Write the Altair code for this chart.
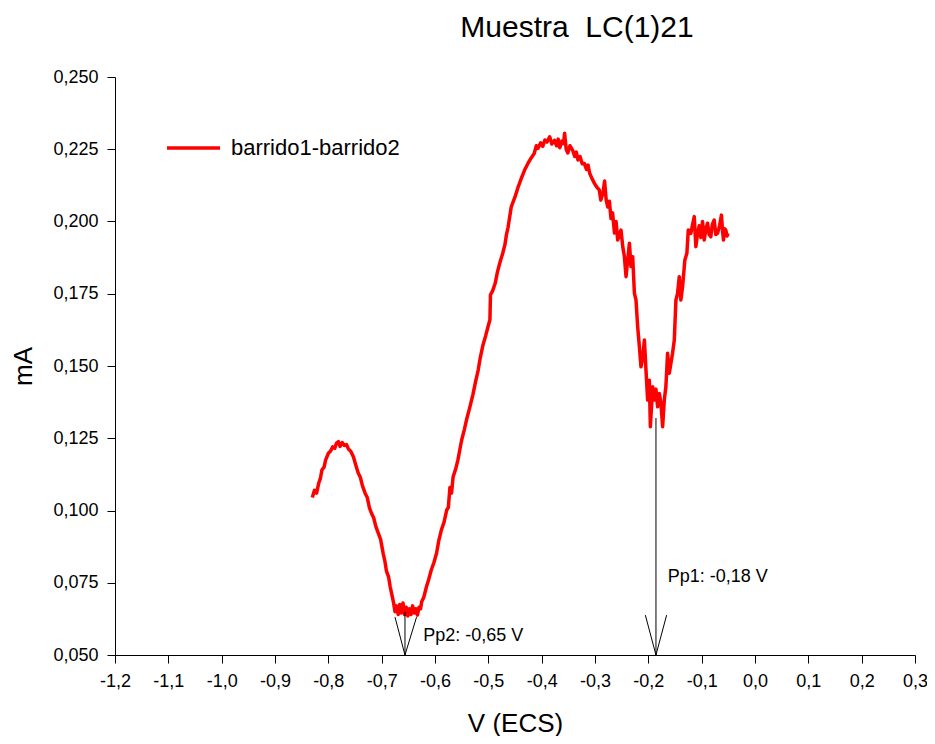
import altair as alt
import pandas as pd

# ---- data (V vs ECS, current in mA) ----
V = [
    -0.830, -0.826, -0.822, -0.818, -0.815, -0.812, -0.808, -0.805, -0.800, -0.796,
    -0.792, -0.788, -0.785, -0.781, -0.778, -0.774, -0.770, -0.766, -0.762, -0.758,
    -0.753, -0.749, -0.744, -0.740, -0.736, -0.731, -0.727, -0.723, -0.719, -0.715,
    -0.711, -0.706, -0.702, -0.697, -0.694, -0.691, -0.687, -0.684, -0.681, -0.678,
    -0.675, -0.672, -0.669, -0.666, -0.663, -0.660, -0.657, -0.654, -0.651, -0.648,
    -0.645, -0.642, -0.639, -0.636, -0.633, -0.630, -0.627, -0.625, -0.621, -0.616,
    -0.612, -0.607, -0.602, -0.597, -0.593, -0.588, -0.583, -0.578, -0.575, -0.572,
    -0.569, -0.566, -0.561, -0.557, -0.554, -0.550, -0.545, -0.541, -0.535, -0.529,
    -0.524, -0.519, -0.515, -0.510, -0.505, -0.500, -0.497, -0.496, -0.492, -0.487,
    -0.483, -0.478, -0.473, -0.469, -0.466, -0.463, -0.457, -0.450, -0.444, -0.438,
    -0.432, -0.426, -0.420, -0.414, -0.410, -0.407, -0.402, -0.398, -0.394, -0.390,
    -0.385, -0.381, -0.376, -0.372, -0.369, -0.366, -0.362, -0.359, -0.357, -0.354,
    -0.351, -0.347, -0.342, -0.338, -0.335, -0.332, -0.328, -0.324, -0.320, -0.316,
    -0.313, -0.310, -0.306, -0.301, -0.297, -0.292, -0.289, -0.285, -0.282, -0.279,
    -0.276, -0.273, -0.270, -0.267, -0.2635, -0.2605, -0.2574, -0.2512, -0.248, -0.245,
    -0.2418, -0.2355, -0.2325, -0.2293, -0.2261, -0.2231, -0.2200, -0.2168, -0.2138, -0.2105,
    -0.2074, -0.2044, -0.2013, -0.1981, -0.1962, -0.1919, -0.1887, -0.1857, -0.1826, -0.1794,
    -0.1764, -0.1732, -0.1701, -0.1671, -0.1639, -0.1607, -0.1546, -0.1513, -0.1483, -0.1452,
    -0.1420, -0.1390, -0.1358, -0.1315, -0.1277, -0.1251, -0.1203, -0.1170, -0.1139, -0.1109,
    -0.1075, -0.1046, -0.1015, -0.0984, -0.0952, -0.0920, -0.0890, -0.0860, -0.0829, -0.0800,
    -0.0765, -0.0735, -0.0703, -0.0665, -0.0629, -0.0610, -0.0591, -0.0570, -0.0548, -0.0525,
    -0.0503,
]
I = [
    0.1045, 0.1070, 0.1060, 0.1095, 0.1110, 0.1140, 0.1150, 0.1175, 0.1198, 0.1205,
    0.1220, 0.1215, 0.1232, 0.1238, 0.1222, 0.1235, 0.1225, 0.1228, 0.1212, 0.1205,
    0.1186, 0.1160, 0.1130, 0.1115, 0.1085, 0.1060, 0.1045, 0.1010, 0.0990, 0.0975,
    0.0945, 0.0920, 0.0900, 0.0850, 0.0825, 0.0790, 0.0770, 0.0736, 0.0710, 0.0684,
    0.0650, 0.0670, 0.0640, 0.0675, 0.0645, 0.0680, 0.0640, 0.0665, 0.0635, 0.0660,
    0.0640, 0.0670, 0.0645, 0.0660, 0.0638, 0.0665, 0.0660, 0.0684, 0.0700, 0.0736,
    0.0760, 0.0794, 0.0820, 0.0853, 0.0895, 0.0933, 0.0960, 0.1002, 0.1010, 0.1080,
    0.1060, 0.1117, 0.1145, 0.1175, 0.1205, 0.1244, 0.1280, 0.1313, 0.1355, 0.1400,
    0.1445, 0.1486, 0.1530, 0.1573, 0.1605, 0.1640, 0.1660, 0.1746, 0.1760, 0.1787,
    0.1825, 0.1860, 0.1890, 0.1919, 0.1955, 0.1980, 0.2051, 0.2085, 0.2120, 0.2150,
    0.2178, 0.2200, 0.2219, 0.2235, 0.2262, 0.2253, 0.2272, 0.2260, 0.2282, 0.2275,
    0.2293, 0.2268, 0.2281, 0.2262, 0.2285, 0.2255, 0.2278, 0.2270, 0.2305, 0.2250,
    0.2237, 0.2262, 0.2247, 0.2225, 0.2240, 0.2213, 0.2225, 0.2200, 0.2201, 0.2180,
    0.2195, 0.2167, 0.2150, 0.2132, 0.2120, 0.2109, 0.2074, 0.2100, 0.2140, 0.2074,
    0.2050, 0.2070, 0.2010, 0.2030, 0.1960, 0.2000, 0.1936, 0.1970, 0.1913, 0.1880,
    0.1809, 0.1925, 0.1844, 0.1878, 0.1751, 0.1728, 0.1636, 0.1567, 0.1497, 0.1530,
    0.1590, 0.1486, 0.1382, 0.1451, 0.1290, 0.1428, 0.1382, 0.1420, 0.1359, 0.1405,
    0.1371, 0.1290, 0.1382, 0.1428, 0.1544, 0.1475, 0.1544, 0.1590, 0.1728, 0.1751,
    0.1809, 0.1728, 0.1774, 0.1867, 0.1890, 0.1971, 0.1959, 0.1990, 0.2017, 0.1913,
    0.1960, 0.1985, 0.1945, 0.2000, 0.1936, 0.1975, 0.1994, 0.1955, 0.1947, 0.1990,
    0.2005, 0.1955, 0.1959, 0.1985, 0.2022, 0.1970, 0.1936, 0.1975, 0.1971, 0.1950,
    0.1959,
]
SERIE = "barrido1-barrido2"

X_TICKS = [-1.2, -1.1, -1.0, -0.9, -0.8, -0.7, -0.6, -0.5, -0.4, -0.3, -0.2, -0.1, 0.0, 0.1, 0.2, 0.3]
Y_TICKS = [0.050, 0.075, 0.100, 0.125, 0.150, 0.175, 0.200, 0.225, 0.250]

# peak-marker arrows (segments in data units) and their labels
SEG_X1 = [-0.1857, -0.2056, -0.1657, -0.6563, -0.6750, -0.6346]
SEG_Y1 = [0.1320, 0.0638, 0.0638, 0.0649, 0.0631, 0.0631]
SEG_X2 = [-0.1857, -0.1857, -0.1857, -0.6563, -0.6563, -0.6563]
SEG_Y2 = [0.0500, 0.0500, 0.0500, 0.0500, 0.0500, 0.0500]

LBL_TEXT = ["Pp1: -0,18 V", "Pp2: -0,65 V"]
LBL_X = [-0.1638, -0.6220]
LBL_Y = [0.0770, 0.0566]

TITLE = "Muestra\u00a0 LC(1)21"
FONT = "Liberation Sans"

curve = pd.DataFrame({"V": V, "I": I, "serie": [SERIE] * len(V)})
segs = pd.DataFrame({"x1": SEG_X1, "y1": SEG_Y1, "x2": SEG_X2, "y2": SEG_Y2})
lbls = pd.DataFrame({"t": LBL_TEXT, "x": LBL_X, "y": LBL_Y})

x_scale = alt.Scale(domain=[-1.2, 0.3], nice=False, zero=False)
y_scale = alt.Scale(domain=[0.05, 0.25], nice=False, zero=False)

x_axis = alt.Axis(
    title="V (ECS)", values=X_TICKS,
    labelExpr="replace(replace(format(datum.value, '.1f'), '.', ','), '\u2212', '-')",
    tickSize=8, labelPadding=9, titlePadding=20,
    labelFontSize=18, titleFontSize=26,
    labelFlush=False, labelOverlap=False,
)
y_axis = alt.Axis(
    title="mA", values=Y_TICKS,
    labelExpr="replace(format(datum.value, '.3f'), '.', ',')",
    tickSize=8, labelPadding=9, titlePadding=16,
    labelFontSize=18, titleFontSize=26,
    labelFlush=False, labelOverlap=False,
)

line = alt.Chart(curve).mark_line(strokeWidth=3.5, strokeJoin="round").encode(
    x=alt.X("V:Q", scale=x_scale, axis=x_axis),
    y=alt.Y("I:Q", scale=y_scale, axis=y_axis),
    color=alt.Color(
        "serie:N",
        scale=alt.Scale(domain=[SERIE], range=["#ff0000"]),
        legend=alt.Legend(
            title=None, orient="none", legendX=50, legendY=42.5,
            symbolType="stroke", symbolSize=2809, symbolStrokeWidth=3.5,
            labelFontSize=22, labelFont=FONT, labelColor="black",
            labelOffset=9, labelLimit=400, padding=0,
        ),
    ),
)

arrows = alt.Chart(segs).mark_rule(color="black", strokeWidth=1).encode(
    x="x1:Q", y="y1:Q", x2="x2:Q", y2="y2:Q",
)

texts = alt.Chart(lbls).mark_text(
    align="left", baseline="middle", font=FONT, fontSize=18, color="black"
).encode(x="x:Q", y="y:Q", text="t:N")

chart = (
    alt.layer(line, arrows, texts)
    .properties(
        width=800, height=578,
        autosize=alt.AutoSizeParams(type="none"),
        padding={"left": 107, "top": 69, "right": 12, "bottom": 81},
        title=alt.TitleParams(
            TITLE, anchor="middle", dx=62, offset=25,
            fontSize=30, font=FONT,
            fontWeight="normal", color="black",
        ),
    )
    .configure_view(stroke=None)
    .configure_axis(
        grid=False, domainColor="black", tickColor="black",
        labelColor="black", titleColor="black",
        labelFont=FONT, titleFont=FONT, titleFontWeight="normal",
        domainWidth=1, tickWidth=1,
    )
)

chart.save("out.html", embed_options={"renderer": "svg", "actions": False})
